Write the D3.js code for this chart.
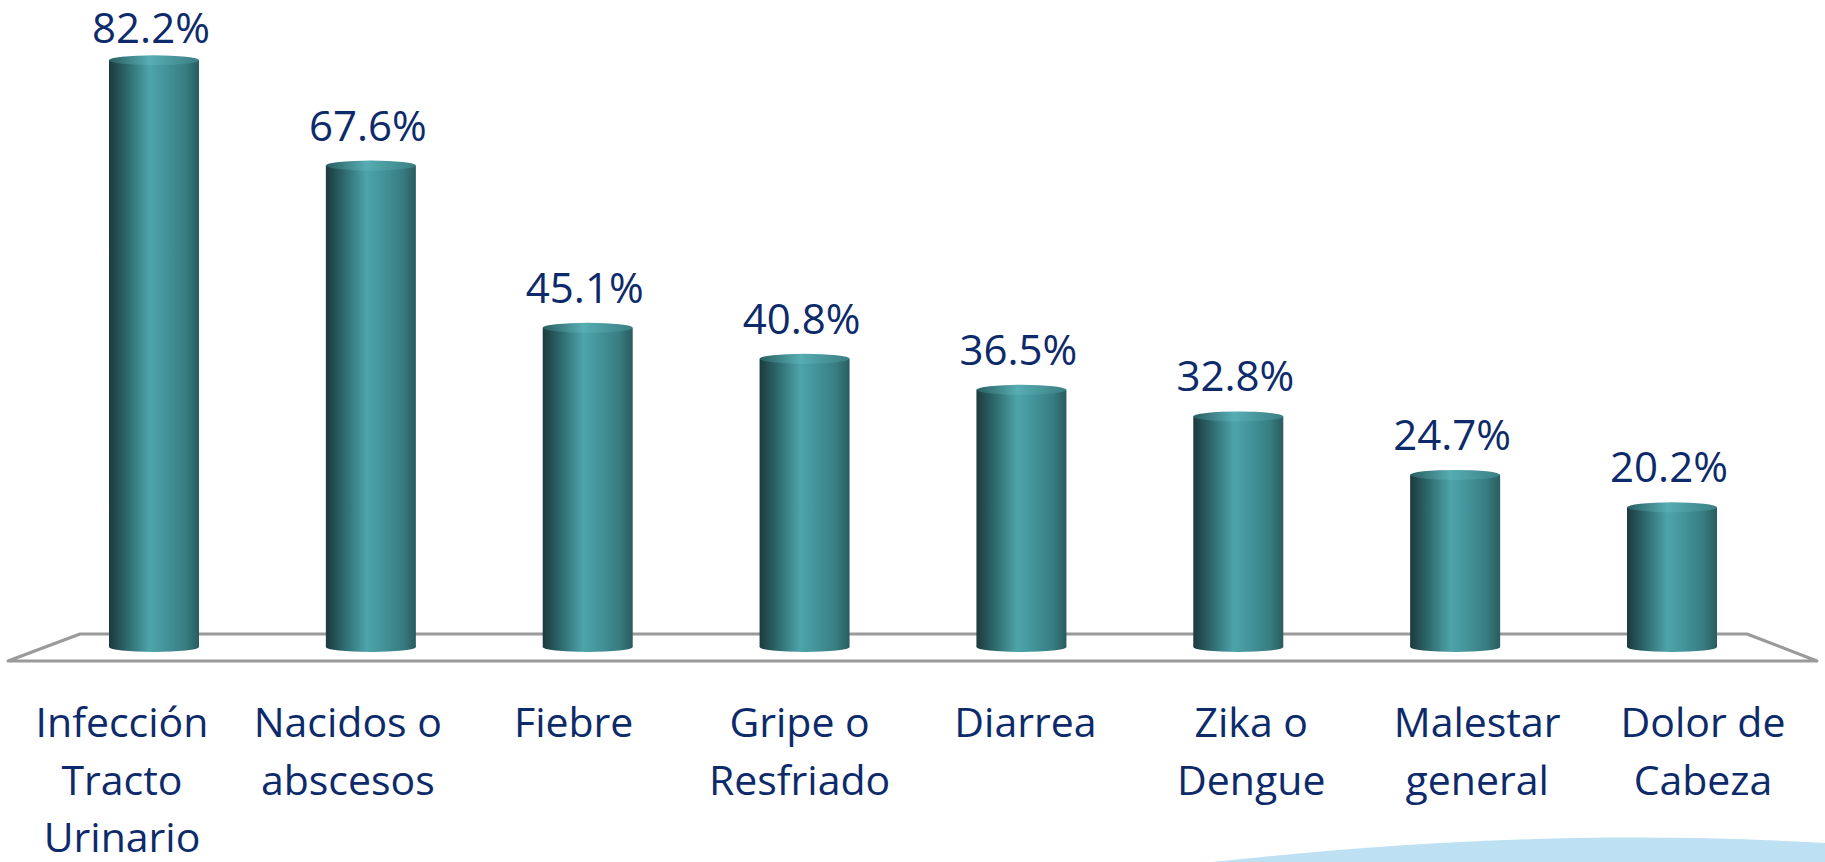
<!DOCTYPE html>
<html>
<head>
<meta charset="utf-8">
<script src="https://cdn.jsdelivr.net/npm/d3@7"></script>
<style>
  body { margin: 0; background: #fff; }
  svg { display: block; }
</style>
</head>
<body>
<div id="chart"></div>
<script>
// data
const categories = [
  ["Infección", "Tracto", "Urinario"],
  ["Nacidos o", "abscesos"],
  ["Fiebre"],
  ["Gripe o", "Resfriado"],
  ["Diarrea"],
  ["Zika o", "Dengue"],
  ["Malestar", "general"],
  ["Dolor de", "Cabeza"]
];
const values = [82.2, 67.6, 45.1, 40.8, 36.5, 32.8, 24.7, 20.2];
const valueLabels = ["82.2%", "67.6%", "45.1%", "40.8%", "36.5%", "32.8%", "24.7%", "20.2%"];

const width = 1825;
const height = 862;
const textColor = "#0d2a6b";
const barW = 90;
const ry = 5;
const floorBack = 634;
const floorFront = 661;
const barBase = 647;

const svg = d3.select("#chart")
    .append("svg")
    .attr("width", width)
    .attr("height", height);

const keys = categories.map((d, i) => i);

// bar centres sit on the back of the floor, labels on its wider front edge
const x = d3.scalePoint()
    .domain(keys)
    .range([154, 1672]);

const xLabel = d3.scalePoint()
    .domain(keys)
    .range([122, 1703]);

const y = d3.scaleLinear()
    .domain([0, 90])
    .range([653, 4]);

// cylinder shading
const defs = svg.append("defs");
const grad = defs.append("linearGradient")
    .attr("id", "cyl")
    .attr("x1", "0%").attr("x2", "100%")
    .attr("y1", "0%").attr("y2", "0%");
[
  [0, "#1c3a3e"], [0.18, "#2b6468"], [0.45, "#4ca4a9"],
  [0.58, "#46999e"], [0.85, "#377d82"], [1, "#2a5c60"]
].forEach(s => grad.append("stop").attr("offset", s[0]).attr("stop-color", s[1]));

const capGrad = defs.append("linearGradient")
    .attr("id", "cap")
    .attr("x1", "0%").attr("x2", "100%");
[
  [0, "#2a5e62"], [0.45, "#56adb2"], [1, "#3a7f84"]
].forEach(s => capGrad.append("stop").attr("offset", s[0]).attr("stop-color", s[1]));

// light blue swoosh in the corner
svg.append("path")
    .attr("d", "M1212,862 C1400,842 1600,830 1825,843 L1825,862 Z")
    .attr("fill", "#bde0f3");

// floor
svg.append("path")
    .attr("d", `M80,${floorBack} L1747,${floorBack} L1817,${floorFront} L8,${floorFront} Z`)
    .attr("fill", "#fff")
    .attr("stroke", "#9a9a9a")
    .attr("stroke-width", 3)
    .attr("stroke-linejoin", "round");

const bars = svg.selectAll(".bar")
    .data(values)
    .enter()
    .append("g")
    .attr("class", "bar");

bars.append("ellipse")
    .attr("cx", (d, i) => x(i))
    .attr("cy", barBase)
    .attr("rx", barW / 2)
    .attr("ry", ry)
    .attr("fill", "url(#cyl)");

bars.append("rect")
    .attr("x", (d, i) => x(i) - barW / 2)
    .attr("y", d => y(d))
    .attr("width", barW)
    .attr("height", d => barBase - y(d))
    .attr("fill", "url(#cyl)");

bars.append("ellipse")
    .attr("cx", (d, i) => x(i))
    .attr("cy", d => y(d))
    .attr("rx", barW / 2)
    .attr("ry", ry)
    .attr("fill", "url(#cap)");

// value labels
svg.selectAll(".val")
    .data(values)
    .enter()
    .append("text")
    .attr("class", "val")
    .attr("x", (d, i) => x(i) - 3)
    .attr("y", d => Math.max(y(d) - 25, 43))
    .attr("text-anchor", "middle")
    .attr("font-family", "'Open Sans', sans-serif")
    .attr("font-size", 42)
    .attr("fill", textColor)
    .text((d, i) => valueLabels[i]);

// category labels
const cat = svg.selectAll(".cat")
    .data(categories)
    .enter()
    .append("text")
    .attr("class", "cat")
    .attr("text-anchor", "middle")
    .attr("font-family", "'Open Sans', sans-serif")
    .attr("font-size", 41)
    .attr("fill", textColor);

cat.selectAll("tspan")
    .data((d, i) => d.map(line => ({ line, i })))
    .enter()
    .append("tspan")
    .attr("x", d => xLabel(d.i))
    .attr("y", (d, j) => 737 + j * 57.5)
    .text(d => d.line);
</script>
</body>
</html>
